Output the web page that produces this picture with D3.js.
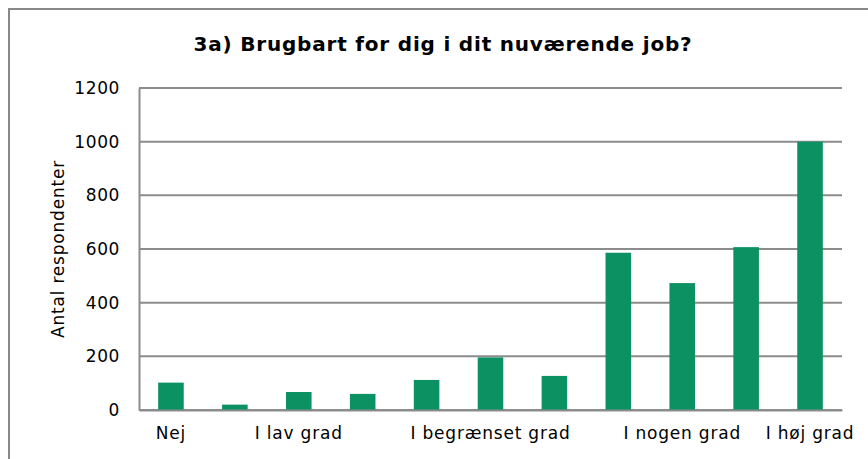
<!DOCTYPE html>
<html><head><meta charset="utf-8">
<script src="https://cdn.jsdelivr.net/npm/d3@7"></script>
<style>body{margin:0;background:#fff}svg{display:block}</style>
</head><body>
<script>
const categories = ["0","1","2","3","4","5","6","7","8","9","10"];
const values = [102, 20, 67, 60, 112, 196, 127, 586, 473, 607, 1000];
const tickLabels = {"0":"Nej","2":"I lav grad","5":"I begrænset grad","8":"I nogen grad","10":"I høj grad"};
const yTicks = [0,200,400,600,800,1000,1200];
const title = "3a) Brugbart for dig i dit nuværende job?";
const yTitle = "Antal respondenter";

const W = 868, H = 459;
const m = {left:139, right:26, top:88, bottom:49};
const font = "Verdana, 'DejaVu Sans', sans-serif";
const svg = d3.select("body").append("svg").attr("width",W).attr("height",H);

svg.append("rect").attr("x",9).attr("y",9).attr("width",W+20).attr("height",H+20)
  .attr("fill","#fff").attr("stroke","#888").attr("stroke-width",2);

const x = d3.scaleBand().domain(categories).range([m.left, W-m.right]).paddingInner(0.6).paddingOuter(0.3);
const y = d3.scaleLinear().domain([0,1200]).range([H-m.bottom, m.top]);

// gridlines
svg.append("g").selectAll("line").data(yTicks).join("line")
  .attr("x1",m.left).attr("x2",W-m.right)
  .attr("y1",d=>y(d)).attr("y2",d=>y(d))
  .attr("stroke","#8c8c8c").attr("stroke-width",2);

// y axis
const ya = svg.append("g").attr("transform",`translate(${m.left},0)`)
  .call(d3.axisLeft(y).tickValues(yTicks).tickFormat(d3.format("d")).tickSize(0).tickPadding(19));
ya.select(".domain").attr("stroke","#8c8c8c").attr("stroke-width",2);
ya.selectAll("text").attr("font-family",font).attr("font-size",17).attr("letter-spacing",0.6).attr("fill","#000");

// bars
svg.append("g").selectAll("rect").data(values).join("rect")
  .attr("x",(d,i)=>x(categories[i]))
  .attr("width",x.bandwidth())
  .attr("y",d=>y(d))
  .attr("height",d=>y(0)-y(d))
  .attr("fill","#0b9162");

// x axis
const xa = svg.append("g").attr("transform",`translate(0,${y(0)})`)
  .call(d3.axisBottom(x).tickSize(0).tickPadding(17).tickFormat(d=>tickLabels[d]||""));
xa.select(".domain").attr("stroke","#8c8c8c").attr("stroke-width",2);
xa.selectAll("text").attr("font-family",font).attr("font-size",17).attr("letter-spacing",0.8).attr("fill","#000");

// title
svg.append("text").attr("x",443).attr("y",51).attr("text-anchor","middle")
  .attr("font-family",font).attr("font-weight","bold").attr("font-size",20).attr("letter-spacing",0.8).text(title);

// y title
svg.append("text").attr("transform",`translate(64,${(y(0)+y(1200))/2}) rotate(-90)`)
  .attr("text-anchor","middle").attr("font-family",font).attr("font-size",17).attr("letter-spacing",0.8).text(yTitle);
</script>
</body></html>
